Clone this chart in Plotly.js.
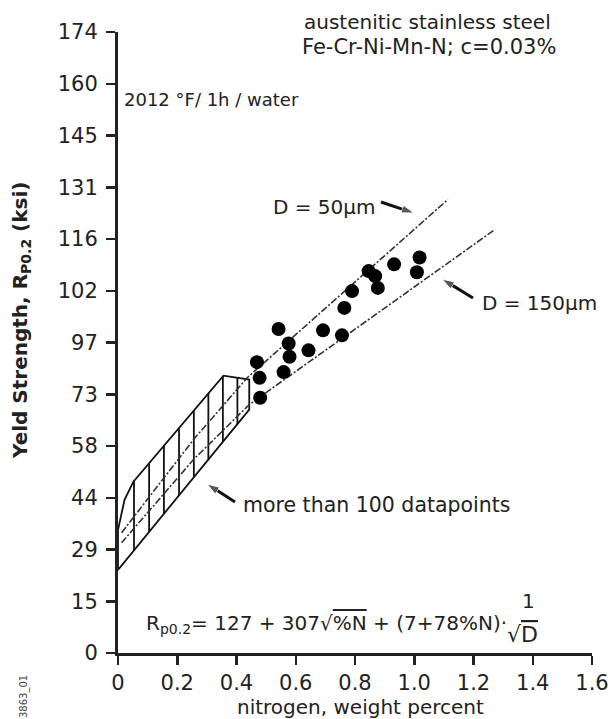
<!DOCTYPE html>
<html>
<head>
<meta charset="utf-8">
<script src="https://cdn.plot.ly/plotly-3.0.1.min.js"></script>
<style>html,body{margin:0;padding:0;background:#fff;}#chart{width:611px;height:719px;}</style>
</head>
<body>
<div id="chart"></div>
<script>
// ---- data ----
const nitrogen = [0.542,0.576,0.579,0.469,0.478,0.559,0.480,0.643,0.692,0.756,0.764,0.790,0.846,0.868,0.877,0.932,1.018,1.009];
const yieldKsi = [90.8,86.7,83.0,81.5,77.1,78.7,71.5,84.8,90.4,89.0,96.7,101.4,107.0,105.6,102.3,108.9,110.8,106.7];

const d50X = [0.012,0.255,0.437,1.114];
const d50Y = [33.7,59.8,77.2,127.1];
const d150X = [0.012,0.255,0.443,1.273];
const d150Y = [30.9,54.2,69.6,118.7];

const bandX = [0,0.022,0.052,0.356,0.443,0.443,0,0];
const bandY = [34.5,42.9,48.0,77.7,76.6,68.2,23.3,34.5];

const hatchX = [0.054,0.105,0.155,0.206,0.256,0.305,0.354,0.403];
const hatchTop = [48.3,53.1,58.1,63.0,68.0,72.8,77.6,77.1];
const hatchBottom = [28.8,33.9,39.0,44.1,49.2,54.2,59.2,64.1];

const xTicks = [0,0.2,0.4,0.6,0.8,1.0,1.2,1.4,1.6];
const xTickLabels = ['0','0.2','0.4','0.6','0.8','1.0','1.2','1.4','1.6'];
const yTickLabels = ['0','15','29','44','58','73','97','102','116','131','145','160','174'];
const yStep = 14.5;

// ---- build ----
const FONT = 'DejaVu Sans, Liberation Sans, Arial, sans-serif';
const INK = '#222';
const W = 611, H = 719, L = 118, R = 19, T = 32, B = 66;
const pw = W - L - R, ph = H - T - B;
const XMAX = 1.6, YMAX = 174;
function px(x){ return (x - L) / pw; }
function py(y){ return (H - B - y) / ph; }
function dx(x){ return px(x) * XMAX; }
function dy(y){ return py(y) * YMAX; }

const hx = [], hy = [];
hatchX.forEach((x,i)=>{ hx.push(x,x,null); hy.push(hatchBottom[i],hatchTop[i],null); });

// pointer arrows (tail pixel -> head pixel)
const pointers = [
  [[381,202],[414,213]],
  [[473,298],[442,279]],
  [[235,502],[207,484]]
];

const traces = [
  {x: bandX, y: bandY, mode:'lines', line:{color:'#111', width:1.8}, hoverinfo:'skip'},
  {x: hx, y: hy, mode:'lines', line:{color:'#111', width:1.8}, hoverinfo:'skip'},
  {x: d50X, y: d50Y, mode:'lines', line:{color:'#333', width:1.6, dash:'7px,2px,2px,2px'}, hoverinfo:'skip'},
  {x: d150X, y: d150Y, mode:'lines', line:{color:'#333', width:1.6, dash:'7px,2px,2px,2px'}, hoverinfo:'skip'},
  {x: nitrogen, y: yieldKsi, mode:'markers', marker:{color:'#000', size:14}, hoverinfo:'x+y'}
];
pointers.forEach(p=>{
  traces.push({x:[dx(p[0][0]), dx(p[1][0])], y:[dy(p[0][1]), dy(p[1][1])], mode:'lines+markers',
    line:{color:'#111', width:3},
    marker:{symbol:['circle','arrow'], size:[0,13], angleref:'previous', color:'#111'},
    cliponaxis:false, hoverinfo:'skip'});
});

function txt(text, x, y, opts){
  return Object.assign({text:text, xref:'paper', yref:'paper', x:px(x), y:py(y),
    xanchor:'left', yanchor:'middle', showarrow:false, font:{family:FONT, size:20, color:INK}}, opts||{});
}

const annotations = [
  txt('austenitic stainless steel', 302, 22),
  txt('Fe-Cr-Ni-Mn-N; c=0.03%', 300, 47, {font:{family:FONT, size:21, color:INK}}),
  txt('2012 °F/ 1h / water', 122, 99, {font:{family:FONT, size:18, color:INK}}),
  txt('D = 50μm', 271, 207),
  txt('D = 150μm', 480, 303),
  txt('more than 100 datapoints', 241, 505, {font:{family:FONT, size:20.5, color:INK}}),
  txt('R<sub>p0.2</sub>= 127 + 307√<span style="text-decoration:overline">%N</span> + (7+78%N)·', 144, 624),
  txt('1', 528, 601, {xanchor:'center'}),
  txt('√<span style="text-decoration:overline">D</span>', 505, 634, {font:{family:FONT, size:22, color:INK}}),
  txt('<b>Yeld Strength, R<sub>P0.2</sub> (ksi)</b>', 21, 321, {xanchor:'center', textangle:-90}),
  txt('nitrogen, weight percent', 360, 707, {xanchor:'center'}),
  txt('3863_01', 24, 697, {xanchor:'center', textangle:-90, font:{family:FONT, size:10, color:'#444'}})
];

const layout = {
  width: W, height: H,
  margin: {l:L, r:R, t:T, b:B, pad:0},
  paper_bgcolor:'#fff', plot_bgcolor:'#fff',
  showlegend:false,
  font:{family:FONT, size:20, color:INK},
  xaxis:{range:[0,XMAX], tickvals:xTicks, ticktext:xTickLabels, showgrid:false, zeroline:false,
    showline:true, linecolor:INK, linewidth:3, ticks:'outside', ticklen:9, tickwidth:2.5, tickcolor:INK,
    tickfont:{family:FONT, size:21, color:INK}},
  yaxis:{range:[0,YMAX], tickvals:yTickLabels.map((_,i)=>i*yStep), ticktext:yTickLabels, showgrid:false, zeroline:false,
    showline:true, linecolor:INK, linewidth:3, ticks:'outside', ticklen:9, tickwidth:2.5, tickcolor:INK,
    tickfont:{family:FONT, size:21, color:INK}, ticklabelstandoff:4},
  annotations: annotations
};

Plotly.newPlot('chart', traces, layout, {displayModeBar:false, staticPlot:true});
</script>
</body>
</html>
